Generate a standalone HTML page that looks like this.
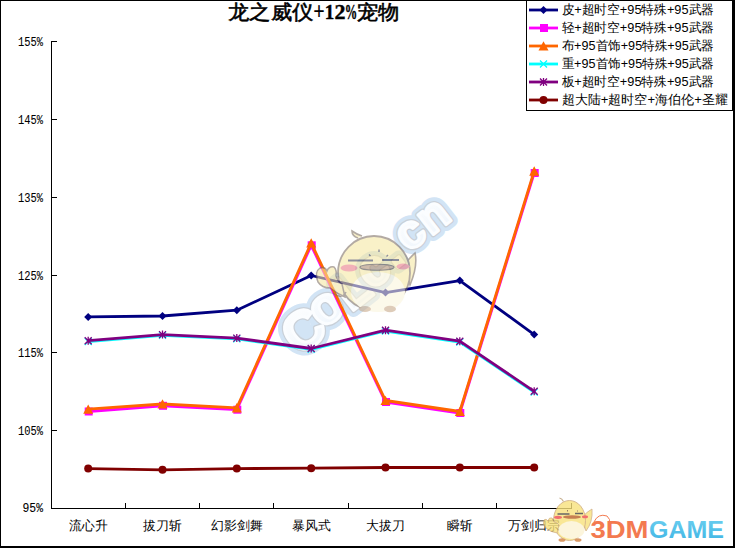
<!DOCTYPE html>
<html><head><meta charset="utf-8"><style>
html,body{margin:0;padding:0;background:#fff;}
body{width:735px;height:548px;overflow:hidden;position:relative;}
svg{position:absolute;left:0;top:0;}
.yl{font-family:"Liberation Mono",monospace;font-size:12px;fill:#000;stroke:#000;stroke-width:0.08px;}
.xl,.lg{font-family:"Liberation Sans",sans-serif;font-size:13px;fill:#000;}
.tt{font-family:"Liberation Serif",serif;font-size:20px;font-weight:normal;fill:#000;stroke:#000;stroke-width:0.55px;}
.tt2{font-family:"Liberation Serif",serif;font-size:20.5px;font-weight:bold;fill:#000;stroke:#000;stroke-width:0.4px;}
</style></head><body>
<svg width="735" height="548" viewBox="0 0 735 548">
<rect x="0" y="0" width="735" height="548" fill="#fff"/>
<path d="M51.5 41V508.5H572" stroke="#000" stroke-width="1" fill="none" shape-rendering="crispEdges"/><path d="M52 41.5H57" stroke="#000" stroke-width="1" shape-rendering="crispEdges"/><path d="M52 119.5H57" stroke="#000" stroke-width="1" shape-rendering="crispEdges"/><path d="M52 197.5H57" stroke="#000" stroke-width="1" shape-rendering="crispEdges"/><path d="M52 275.5H57" stroke="#000" stroke-width="1" shape-rendering="crispEdges"/><path d="M52 352.5H57" stroke="#000" stroke-width="1" shape-rendering="crispEdges"/><path d="M52 430.5H57" stroke="#000" stroke-width="1" shape-rendering="crispEdges"/><path d="M125.5 503V508" stroke="#000" stroke-width="1" shape-rendering="crispEdges"/><path d="M199.5 503V508" stroke="#000" stroke-width="1" shape-rendering="crispEdges"/><path d="M273.5 503V508" stroke="#000" stroke-width="1" shape-rendering="crispEdges"/><path d="M348.5 503V508" stroke="#000" stroke-width="1" shape-rendering="crispEdges"/><path d="M422.5 503V508" stroke="#000" stroke-width="1" shape-rendering="crispEdges"/><path d="M496.5 503V508" stroke="#000" stroke-width="1" shape-rendering="crispEdges"/><path d="M571.5 503V508" stroke="#000" stroke-width="1" shape-rendering="crispEdges"/>
<text x="18.0" y="45.6" textLength="25" lengthAdjust="spacingAndGlyphs" class="yl">155%</text><text x="18.0" y="123.6" textLength="25" lengthAdjust="spacingAndGlyphs" class="yl">145%</text><text x="18.0" y="201.6" textLength="25" lengthAdjust="spacingAndGlyphs" class="yl">135%</text><text x="18.0" y="279.6" textLength="25" lengthAdjust="spacingAndGlyphs" class="yl">125%</text><text x="18.0" y="356.6" textLength="25" lengthAdjust="spacingAndGlyphs" class="yl">115%</text><text x="18.0" y="434.6" textLength="25" lengthAdjust="spacingAndGlyphs" class="yl">105%</text><text x="22.5" y="512.1" textLength="20.5" lengthAdjust="spacingAndGlyphs" class="yl">95%</text>
<text x="69.0" y="529.5" textLength="38.5" lengthAdjust="spacingAndGlyphs" class="xl">流心升</text><text x="143.3" y="529.5" textLength="38.5" lengthAdjust="spacingAndGlyphs" class="xl">拔刀斩</text><text x="210.9" y="529.5" textLength="51.8" lengthAdjust="spacingAndGlyphs" class="xl">幻影剑舞</text><text x="292.0" y="529.5" textLength="38.5" lengthAdjust="spacingAndGlyphs" class="xl">暴风式</text><text x="366.3" y="529.5" textLength="38.5" lengthAdjust="spacingAndGlyphs" class="xl">大拔刀</text><text x="447.2" y="529.5" textLength="25.2" lengthAdjust="spacingAndGlyphs" class="xl">瞬斩</text><text x="508.3" y="529.5" textLength="51.8" lengthAdjust="spacingAndGlyphs" class="xl">万剑归宗</text>
<text x="228" y="19" textLength="85" lengthAdjust="spacingAndGlyphs" class="tt">龙之威仪</text><text x="313.2" y="20.3" textLength="11.5" lengthAdjust="spacingAndGlyphs" class="tt2" style="font-size:25px;stroke-width:0.1px">+</text><text x="324.8" y="19.2" textLength="9.5" lengthAdjust="spacingAndGlyphs" class="tt2">1</text><text x="334.4" y="19.2" textLength="11" lengthAdjust="spacingAndGlyphs" class="tt2">2</text><text x="344.8" y="19.2" textLength="12.5" lengthAdjust="spacingAndGlyphs" class="tt2">%</text><text x="357" y="19" textLength="42.5" lengthAdjust="spacingAndGlyphs" class="tt">宠物</text>
<defs>
<linearGradient id="wmg" x1="0" y1="0" x2="0" y2="1"><stop offset="0" stop-color="#ffffff"/><stop offset="1" stop-color="#eef5fc"/></linearGradient>
<g id="wmt" font-family="Liberation Sans, sans-serif" font-weight="bold" text-anchor="middle">
<text font-size="54" transform="translate(302.6 329.5) rotate(-38)" y="19.5">C</text>
<text font-size="52" transform="translate(327 309) rotate(-38)" y="14">o</text>
<text font-size="50" transform="translate(352 289) rotate(-38)" y="18">L</text>
<text font-size="50" transform="translate(374 271) rotate(-38)" y="14">c</text>
<text font-size="50" transform="translate(392 254) rotate(-38)" y="14">.</text>
<text font-size="47" transform="translate(411 234.5) rotate(-38)" y="13">c</text>
<text font-size="47" transform="translate(434 217.5) rotate(-38)" y="13">n</text>
</g>
</defs>
<use href="#wmt" fill="#d2e4f5" stroke="#d2e4f5" stroke-width="13" stroke-linejoin="round"/>
<g fill="#d2e4f5">
<ellipse cx="303.6" cy="331" rx="9" ry="10"/>
<ellipse cx="327" cy="309" rx="5" ry="7" transform="rotate(-38 327 309)"/>
<ellipse cx="411" cy="234" rx="6" ry="6"/>
</g>
<use href="#wmt" fill="#c6ccd4" stroke="#c9d0d8" stroke-width="5.5" stroke-linejoin="round"/>
<use href="#wmt" fill="url(#wmg)" stroke="#fbfdff" stroke-width="3" stroke-linejoin="round"/>

<polyline points="88.2,316.9 162.5,316.0 236.8,310.2 311.2,275.5 385.5,292.6 459.8,280.6 534.2,334.6" fill="none" stroke="#000080" stroke-width="2.8" stroke-linejoin="round" stroke-linecap="round"/><path d="M88.2 312.9L92.2 316.9L88.2 320.9L84.2 316.9Z" fill="#000080"/><path d="M162.5 312.0L166.5 316.0L162.5 320.0L158.5 316.0Z" fill="#000080"/><path d="M236.8 306.2L240.8 310.2L236.8 314.2L232.8 310.2Z" fill="#000080"/><path d="M311.2 271.5L315.2 275.5L311.2 279.5L307.2 275.5Z" fill="#000080"/><path d="M385.5 288.6L389.5 292.6L385.5 296.6L381.5 292.6Z" fill="#000080"/><path d="M459.8 276.6L463.8 280.6L459.8 284.6L455.8 280.6Z" fill="#000080"/><path d="M534.2 330.6L538.2 334.6L534.2 338.6L530.2 334.6Z" fill="#000080"/><polyline points="88.2,411.5 162.5,405.8 236.8,409.7 311.2,245.3 385.5,402.0 459.8,413.0 534.2,173.0" fill="none" stroke="#FF00FF" stroke-width="2.8" stroke-linejoin="round" stroke-linecap="round"/><rect x="84.7" y="407.5" width="8" height="8" fill="#FF00FF"/><rect x="159.0" y="401.8" width="8" height="8" fill="#FF00FF"/><rect x="233.3" y="405.7" width="8" height="8" fill="#FF00FF"/><rect x="307.7" y="241.3" width="8" height="8" fill="#FF00FF"/><rect x="382.0" y="398.0" width="8" height="8" fill="#FF00FF"/><rect x="456.3" y="409.0" width="8" height="8" fill="#FF00FF"/><rect x="530.7" y="169.0" width="8" height="8" fill="#FF00FF"/><polyline points="88.2,409.2 162.5,404.0 236.8,407.9 311.2,243.0 385.5,400.5 459.8,411.5 534.2,171.1" fill="none" stroke="#FF6600" stroke-width="2.8" stroke-linejoin="round" stroke-linecap="round"/><path d="M88.2 404.4L93.2 413.8L83.2 413.8Z" fill="#FF6600"/><path d="M162.5 399.2L167.5 408.6L157.5 408.6Z" fill="#FF6600"/><path d="M236.8 403.1L241.8 412.5L231.8 412.5Z" fill="#FF6600"/><path d="M311.2 238.2L316.2 247.6L306.2 247.6Z" fill="#FF6600"/><path d="M385.5 395.7L390.5 405.1L380.5 405.1Z" fill="#FF6600"/><path d="M459.8 406.7L464.8 416.1L454.8 416.1Z" fill="#FF6600"/><path d="M534.2 166.3L539.2 175.7L529.2 175.7Z" fill="#FF6600"/><polyline points="88.2,341.5 162.5,335.4 236.8,338.9 311.2,349.3 385.5,331.0 459.8,342.0 534.2,392.1" fill="none" stroke="#00FFFF" stroke-width="2.8" stroke-linejoin="round" stroke-linecap="round"/><path d="M84.7 338.0L91.7 345.0M91.7 338.0L84.7 345.0" stroke="#00FFFF" stroke-width="1.3" fill="none"/><path d="M159.0 331.9L166.0 338.9M166.0 331.9L159.0 338.9" stroke="#00FFFF" stroke-width="1.3" fill="none"/><path d="M233.3 335.4L240.3 342.4M240.3 335.4L233.3 342.4" stroke="#00FFFF" stroke-width="1.3" fill="none"/><path d="M307.7 345.8L314.7 352.8M314.7 345.8L307.7 352.8" stroke="#00FFFF" stroke-width="1.3" fill="none"/><path d="M382.0 327.5L389.0 334.5M389.0 327.5L382.0 334.5" stroke="#00FFFF" stroke-width="1.3" fill="none"/><path d="M456.3 338.5L463.3 345.5M463.3 338.5L456.3 345.5" stroke="#00FFFF" stroke-width="1.3" fill="none"/><path d="M530.7 388.6L537.7 395.6M537.7 388.6L530.7 395.6" stroke="#00FFFF" stroke-width="1.3" fill="none"/><polyline points="88.2,340.7 162.5,334.6 236.8,338.1 311.2,348.5 385.5,330.2 459.8,341.2 534.2,391.3" fill="none" stroke="#800080" stroke-width="2.8" stroke-linejoin="round" stroke-linecap="round"/><path d="M84.7 337.2L91.7 344.2M91.7 337.2L84.7 344.2M88.2 336.7L88.2 344.7" stroke="#800080" stroke-width="1.3" fill="none"/><path d="M159.0 331.1L166.0 338.1M166.0 331.1L159.0 338.1M162.5 330.6L162.5 338.6" stroke="#800080" stroke-width="1.3" fill="none"/><path d="M233.3 334.6L240.3 341.6M240.3 334.6L233.3 341.6M236.8 334.1L236.8 342.1" stroke="#800080" stroke-width="1.3" fill="none"/><path d="M307.7 345.0L314.7 352.0M314.7 345.0L307.7 352.0M311.2 344.5L311.2 352.5" stroke="#800080" stroke-width="1.3" fill="none"/><path d="M382.0 326.7L389.0 333.7M389.0 326.7L382.0 333.7M385.5 326.2L385.5 334.2" stroke="#800080" stroke-width="1.3" fill="none"/><path d="M456.3 337.7L463.3 344.7M463.3 337.7L456.3 344.7M459.8 337.2L459.8 345.2" stroke="#800080" stroke-width="1.3" fill="none"/><path d="M530.7 387.8L537.7 394.8M537.7 387.8L530.7 394.8M534.2 387.3L534.2 395.3" stroke="#800080" stroke-width="1.3" fill="none"/><polyline points="88.2,468.6 162.5,469.8 236.8,468.6 311.2,468.2 385.5,467.5 459.8,467.5 534.2,467.5" fill="none" stroke="#800000" stroke-width="2.8" stroke-linejoin="round" stroke-linecap="round"/><circle cx="88.2" cy="468.6" r="4" fill="#800000"/><circle cx="162.5" cy="469.8" r="4" fill="#800000"/><circle cx="236.8" cy="468.6" r="4" fill="#800000"/><circle cx="311.2" cy="468.2" r="4" fill="#800000"/><circle cx="385.5" cy="467.5" r="4" fill="#800000"/><circle cx="459.8" cy="467.5" r="4" fill="#800000"/><circle cx="534.2" cy="467.5" r="4" fill="#800000"/>
<rect x="526" y="0" width="207" height="111" fill="#fff"/><g fill="#000" shape-rendering="crispEdges"><rect x="526" y="0" width="1" height="111"/><rect x="732" y="0" width="1" height="111"/><rect x="526" y="110" width="207" height="1"/></g><path d="M529 10H558" stroke="#000080" stroke-width="2.8"/><path d="M543.5 6.0L547.5 10.0L543.5 14.0L539.5 10.0Z" fill="#000080"/><text x="561.5" y="14.3" textLength="152.5" lengthAdjust="spacingAndGlyphs" class="lg">皮+超时空+95特殊+95武器</text><path d="M529 28H558" stroke="#FF00FF" stroke-width="2.8"/><rect x="540.0" y="24.0" width="8" height="8" fill="#FF00FF"/><text x="561.5" y="32.3" textLength="152.5" lengthAdjust="spacingAndGlyphs" class="lg">轻+超时空+95特殊+95武器</text><path d="M529 46H558" stroke="#FF6600" stroke-width="2.8"/><path d="M543.5 41.2L548.5 50.6L538.5 50.6Z" fill="#FF6600"/><text x="561.5" y="50.3" textLength="152.5" lengthAdjust="spacingAndGlyphs" class="lg">布+95首饰+95特殊+95武器</text><path d="M529 64H558" stroke="#00FFFF" stroke-width="2.8"/><path d="M540.0 60.5L547.0 67.5M547.0 60.5L540.0 67.5" stroke="#00FFFF" stroke-width="1.3" fill="none"/><text x="561.5" y="68.3" textLength="152.5" lengthAdjust="spacingAndGlyphs" class="lg">重+95首饰+95特殊+95武器</text><path d="M529 82H558" stroke="#800080" stroke-width="2.8"/><path d="M540.0 78.5L547.0 85.5M547.0 78.5L540.0 85.5M543.5 78.0L543.5 86.0" stroke="#800080" stroke-width="1.3" fill="none"/><text x="561.5" y="86.3" textLength="152.5" lengthAdjust="spacingAndGlyphs" class="lg">板+超时空+95特殊+95武器</text><path d="M529 100H558" stroke="#800000" stroke-width="2.8"/><circle cx="543.5" cy="100.0" r="4" fill="#800000"/><text x="561.5" y="104.3" textLength="166.5" lengthAdjust="spacingAndGlyphs" class="lg">超大陆+超时空+海伯伦+圣耀</text>
<g opacity="0.58">
<path d="M358 238 Q352 236 352 231 Q356 234 362 236" fill="#f6e7a2" stroke="#7d6e62" stroke-width="1.6"/>
<path d="M404 266 Q409 258 415 253 Q418 266 410 285 Z" fill="#f6e7a2" stroke="#7d6e62" stroke-width="1.6"/>
<ellipse cx="374" cy="273" rx="36" ry="37" fill="#f6e7a2" stroke="#7d6e62" stroke-width="1.8"/>
<path d="M345 297 Q336 293 330 288 Q322 288 318 282 Q314 272 320 268 Q325 266 327 271 Q329 266 334 267 Q337 270 336 276 Q338 282 342 284 Z" fill="#f6e7a2" stroke="#7d6e62" stroke-width="1.5"/>
<path d="M333 293 Q342 300 346 292" stroke="#7d6e62" stroke-width="1.5" fill="none"/>
<ellipse cx="378" cy="292" rx="27" ry="20" fill="#fbf5dc"/>
<ellipse cx="365" cy="309" rx="6" ry="3" fill="#c8a888"/>
<ellipse cx="390" cy="309" rx="6" ry="3.2" fill="#c8a888"/>
<path d="M348 260.5H373M382 260H399" stroke="#3c3e55" stroke-width="1.8"/>
<path d="M379 249.5V252M369 254.5l1.5 1.5M388 255l-1.5 1.5" stroke="#3c3e55" stroke-width="1.4"/>
<ellipse cx="349" cy="268" rx="8.5" ry="3.5" fill="#ea7a86"/>
<ellipse cx="403" cy="266.5" rx="6.5" ry="3" fill="#ea7a86"/>
<ellipse cx="377" cy="267.2" rx="17" ry="3" fill="#b08e70" stroke="#4f4640" stroke-width="1.1"/>
</g>

<g opacity="0.8">
<path d="M559.5 498 Q562 498.5 563.5 501.5" stroke="#b89a70" stroke-width="1.1" fill="none"/>
<path d="M582 518 Q586 512 592 509 Q593 522 586 531 Z" fill="#f8e27c" stroke="#c8a070" stroke-width="0.8"/>
<ellipse cx="569.5" cy="520.5" rx="16" ry="20" fill="#f8e27c" stroke="#c8a070" stroke-width="0.9"/>
<path d="M557 533 Q550 532 546 528 Q542 524 544 520 Q546 518 548 521 Q549 517 552 518 Q554 520 554 522 Q557 522 559 525 Z" fill="#f8e27c" stroke="#c8a070" stroke-width="0.8"/>
<ellipse cx="571.5" cy="530" rx="13" ry="9" fill="#fcf3d4"/>
<ellipse cx="562" cy="540" rx="3.5" ry="1.8" fill="#d08040"/>
<ellipse cx="578" cy="540" rx="3.5" ry="1.8" fill="#d08040"/>
<path d="M557.5 514H569.5M575 513.5H583" stroke="#404040" stroke-width="1.4"/>
<ellipse cx="558" cy="517.3" rx="4" ry="1.6" fill="#ee4a4a"/>
<ellipse cx="585" cy="516.8" rx="3" ry="1.5" fill="#ee4a4a"/>
<ellipse cx="572" cy="517" rx="9" ry="1.8" fill="#b86028"/><path d="M567.5 510v1.5M577.5 510.5v1" stroke="#806040" stroke-width="1"/>
</g>
<defs><linearGradient id="gmg" x1="0" y1="0" x2="0" y2="1"><stop offset="0" stop-color="#6fd0f0"/><stop offset="1" stop-color="#3db4e4"/></linearGradient></defs>
<g font-family="Liberation Sans, sans-serif" font-weight="bold" font-size="24">
<text x="590.5" y="538" textLength="58" lengthAdjust="spacingAndGlyphs" fill="#f37a50">3DM</text>
<text x="649" y="538" textLength="75" lengthAdjust="spacingAndGlyphs" fill="url(#gmg)">GAME</text>
</g>
<path d="M594 522 Q598 513 607 516 Q611 519 609 524" stroke="#f37a50" stroke-width="1" fill="none"/>

<g fill="#000" shape-rendering="crispEdges"><rect x="0" y="0" width="735" height="1"/><rect x="0" y="0" width="1" height="548"/><rect x="733" y="0" width="2" height="548"/><rect x="0" y="546" width="735" height="2"/></g>
</svg>
</body></html>
